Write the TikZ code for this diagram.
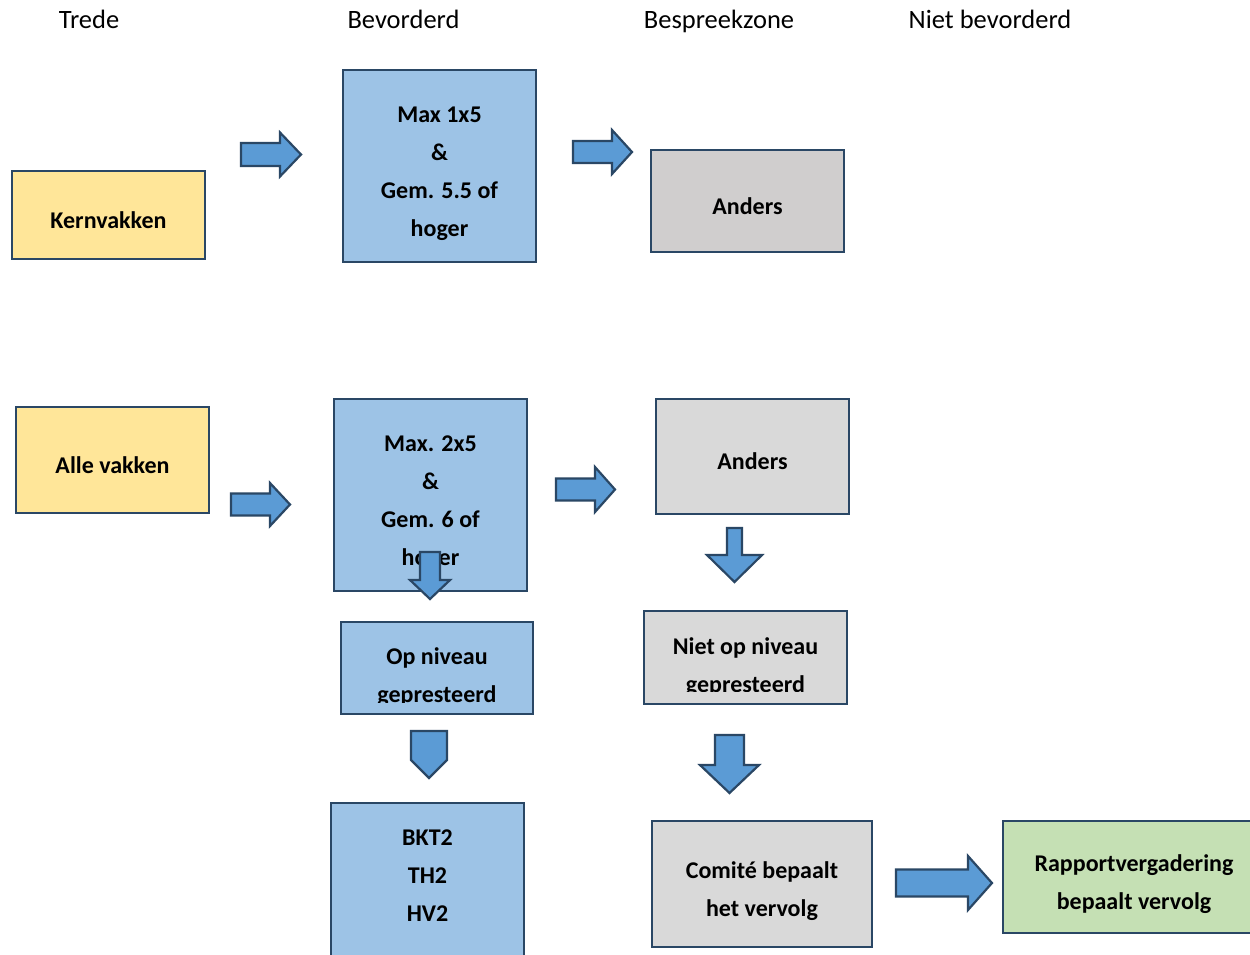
\documentclass[tikz,border=0pt]{standalone}
\usepackage{fontspec}
\setmainfont{Carlito}
\definecolor{edge}{HTML}{2A4765}
\definecolor{arrowblue}{HTML}{5B9BD5}
\definecolor{boxblue}{HTML}{9DC3E6}
\definecolor{boxyellow}{HTML}{FFE699}
\definecolor{boxgray}{HTML}{D9D9D9}
\definecolor{boxgrayd}{HTML}{D0CECE}
\definecolor{boxgreen}{HTML}{C5E0B4}
\newcommand\blockR[6]{% x0, xhead, xtip, ymid, shaft half, head half
  \draw[barrow] (#1,{#4-#5}) -- (#2,{#4-#5}) -- (#2,{#4-#6}) -- (#3,#4) -- (#2,{#4+#6}) -- (#2,{#4+#5}) -- (#1,{#4+#5}) -- cycle;}
\newcommand\blockD[6]{% xmid, y0, yhead, ytip, shaft half, head half
  \draw[barrow] ({#1-#5},#2) -- ({#1+#5},#2) -- ({#1+#5},#3) -- ({#1+#6},#3) -- (#1,#4) -- ({#1-#6},#3) -- ({#1-#5},#3) -- cycle;}
\begin{document}
\begin{tikzpicture}[x=1pt,y=-1pt,
  box/.style={draw=edge, line width=2.8pt, inner sep=0pt},
  txt/.style={font=\fontsize{24}{38}\selectfont\bfseries, align=center, inner sep=0pt},
  hdr/.style={font=\fontsize{26.5}{30}\selectfont, anchor=base, inner sep=0pt},
  barrow/.style={draw=edge, fill=arrowblue, line width=2.2pt, line join=miter}]
\useasboundingbox (0,0) rectangle (1250,954);
\clip (0,0) rectangle (1250,954);
\fill[white] (0,0) rectangle (1250,954);

% headers
\node[hdr] (h1) at (89,28) {Trede};
\node[hdr] (h2) at (403.5,28) {Bevorderd};
\node[hdr] (h3) at (719,28) {Bespreekzone};
\node[hdr] (h4) at (990,28) {Niet bevorderd};

% boxes
\node[box, fill=boxyellow, minimum width=193pt, minimum height=88pt] (kern) at (108.5,215) {};
\node[txt] (kern-t) at (108.5,220) {Kernvakken};
\node[box, fill=boxblue, minimum width=193pt, minimum height=192pt] (max1) at (439.5,166) {};
\node[txt] (max1-t) at (439.5,174) {Max 1x5\\\&\\Gem. 5.5 of\\hoger};
\node[box, fill=boxgrayd, minimum width=193pt, minimum height=102pt] (and1) at (747.5,201) {};
\node[txt] (and1-t) at (747.5,206) {Anders};

\node[box, fill=boxyellow, minimum width=193pt, minimum height=106pt] (alle) at (112.5,460) {};
\node[txt] (alle-t) at (112.5,465) {Alle vakken};
\node[box, fill=boxblue, minimum width=193pt, minimum height=192pt] (max2) at (430.5,495) {};
\node[txt] (max2-t) at (430.5,503) {Max. 2x5\\\&\\Gem. 6 of\\hoger};
\node[box, fill=boxgray, minimum width=193pt, minimum height=115pt] (and2) at (752.5,456.5) {};
\node[txt] (and2-t) at (752.5,461) {Anders};

\node[box, fill=boxblue, minimum width=192pt, minimum height=92pt] (op) at (437,668) {};
\begin{scope}
  \clip (341,622) rectangle (533,702.5);
  \node[txt] (op-t) at (437,677) {Op niveau\\gepresteerd};
\end{scope}
\node[box, fill=boxgray, minimum width=203pt, minimum height=93pt] (niet) at (745.5,657.5) {};
\begin{scope}
  \clip (644,611) rectangle (847,691.5);
  \node[txt] (niet-t) at (745.5,667) {Niet op niveau\\gepresteerd};
\end{scope}

\node[box, fill=boxblue, minimum width=193pt, minimum height=192pt] (bkt) at (427.5,899) {};
\node[txt] (bkt-t) at (427.5,876) {BKT2\\TH2\\HV2};
\node[box, fill=boxgray, minimum width=220pt, minimum height=126pt] (com) at (762,884) {};
\node[txt] (com-t) at (762,891) {Comité bepaalt\\het vervolg};
\node[box, fill=boxgreen, minimum width=262pt, minimum height=112pt] (rap) at (1134,877) {};
\node[txt] (rap-t) at (1134,884) {Rapportvergadering\\bepaalt vervolg};

% block arrows
\blockR{241}{280}{301}{154.5}{11.5}{22}
\blockR{573}{612}{632}{152}{11}{22}
\blockR{231}{270}{290}{504.5}{11}{21.5}
\blockR{556}{595}{615}{489.5}{11}{22.5}
\blockR{896}{968}{992}{883}{13.5}{27}
\blockD{430}{552}{580}{599}{10}{20}
\blockD{734.5}{528}{555}{582}{7.5}{27.5}
\blockD{729.5}{735}{765}{793}{14.5}{29.5}
\draw[barrow] (411,731) -- (447,731) -- (447,760) -- (429,778) -- (411,760) -- cycle;
\end{tikzpicture}
\end{document}
